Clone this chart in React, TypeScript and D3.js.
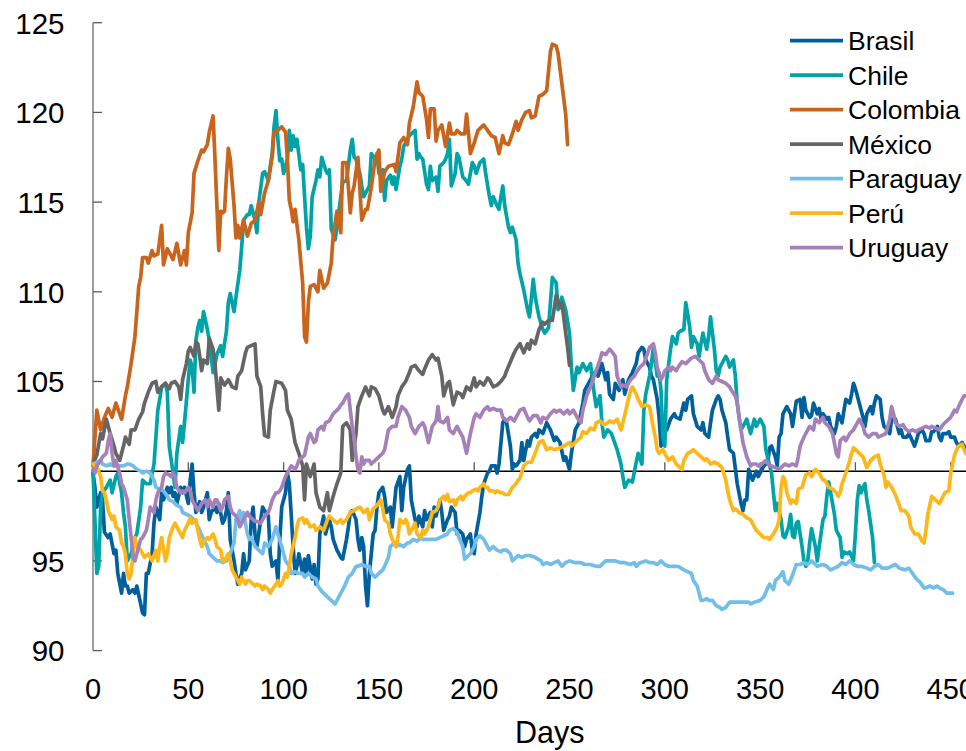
import React from "react";
import * as d3 from "d3";

// ---- Data: [day, index value] ----
const brasil: [number, number][] = [[0,99.9],[1,99.1],[2,98.0],[4,98.8],[5,98.4],[6,96.6],[8,96.3],[9,96.5],[11,95.4],[12,95.6],[13,94.3],[15,93.2],[16,94.3],[17,93.6],[18,93.6],[19,93.2],[21,93.4],[22,93.2],[23,93.6],[25,92.6],[26,92.1],[27,92.0],[28,94.3],[29,94.3],[31,95.4],[32,97.1],[33,98.0],[35,97.3],[36,98.8],[37,98.4],[39,99.1],[40,98.8],[41,99.1],[42,98.6],[43,98.8],[44,98.2],[46,99.1],[47,98.8],[48,99.1],[50,98.2],[51,99.5],[52,100.4],[53,98.8],[54,97.7],[56,98.3],[57,97.7],[58,98.0],[60,98.8],[61,97.3],[62,97.7],[64,98.0],[65,97.7],[66,98.2],[68,97.1],[69,97.3],[70,97.8],[71,98.8],[72,96.2],[74,95.0],[75,94.3],[76,93.7],[78,94.3],[79,95.4],[80,94.5],[82,95.0],[83,97.3],[84,98.0],[85,96.5],[86,95.8],[88,97.3],[89,98.0],[90,97.8],[92,97.5],[93,95.4],[94,94.7],[96,95.0],[97,93.9],[98,96.2],[99,98.0],[101,98.8],[102,99.9],[103,99.3],[105,95.8],[106,94.3],[107,94.7],[108,95.4],[110,94.3],[111,95.1],[112,94.3],[113,95.3],[115,94.0],[116,94.8],[117,93.7],[118,94.0],[119,96.5],[121,97.5],[122,96.5],[124,97.3],[125,96.9],[126,96.2],[128,95.6],[129,95.4],[130,95.2],[131,95.1],[133,96.2],[134,96.9],[135,97.7],[136,97.8],[138,97.3],[139,96.2],[140,95.6],[141,96.3],[142,95.8],[143,93.6],[144,92.5],[145,94.3],[147,96.5],[148,96.7],[149,98.0],[150,98.8],[152,99.1],[153,98.6],[154,97.7],[156,98.0],[157,96.9],[158,98.0],[159,99.1],[161,99.7],[162,97.8],[163,99.1],[165,100.1],[166,100.3],[167,98.4],[169,97.3],[170,96.9],[171,97.5],[173,96.9],[174,97.8],[175,97.3],[177,97.7],[178,96.9],[179,98.0],[180,97.5],[182,98.4],[183,97.7],[184,96.7],[186,97.3],[187,97.5],[188,98.0],[190,97.7],[191,96.5],[192,96.7],[194,96.5],[195,95.8],[196,96.2],[198,96.5],[199,95.6],[200,95.4],[201,96.5],[203,97.7],[204,98.6],[205,99.3],[207,99.9],[208,100.0],[209,100.3],[211,100.3],[212,99.9],[213,100.4],[215,102.7],[216,102.9],[217,102.7],[219,101.4],[220,100.1],[221,100.4],[222,100.3],[224,100.6],[225,101.6],[226,100.6],[228,101.7],[229,101.4],[230,101.9],[232,102.1],[233,101.9],[234,102.3],[236,102.1],[238,102.7],[240,102.3],[242,101.7],[243,101.9],[245,101.6],[247,100.6],[248,100.8],[250,100.1],[251,101.0],[253,102.3],[255,102.7],[257,103.8],[258,104.5],[260,104.9],[262,105.3],[264,105.6],[265,105.3],[267,106.0],[269,105.1],[270,105.5],[271,104.3],[273,104.0],[274,104.9],[276,104.5],[278,105.1],[279,104.3],[281,105.1],[283,105.5],[285,106.0],[286,106.6],[288,106.9],[289,106.8],[290,106.2],[292,105.8],[293,105.3],[294,105.1],[296,104.0],[297,103.0],[298,101.4],[300,102.5],[301,102.3],[303,102.9],[305,103.2],[306,103.0],[308,102.9],[310,103.8],[311,103.4],[312,104.0],[314,104.2],[315,103.2],[317,102.5],[319,102.3],[320,102.7],[321,102.1],[323,101.9],[324,102.7],[325,103.4],[327,104.0],[328,104.2],[329,104.0],[330,103.4],[332,102.7],[333,101.9],[334,101.2],[336,101.0],[338,99.3],[340,98.2],[341,97.8],[342,98.4],[343,98.4],[344,100.1],[346,99.5],[348,100.0],[349,99.7],[351,100.1],[352,100.3],[354,100.5],[355,101.3],[356,101.4],[358,100.8],[359,100.3],[360,101.9],[361,102.1],[362,103.2],[364,103.6],[366,103.2],[367,102.5],[368,103.2],[369,103.9],[371,104.0],[372,103.0],[373,104.1],[374,103.4],[376,103.0],[377,103.1],[378,103.8],[380,103.2],[381,103.5],[382,102.9],[383,103.2],[385,102.9],[386,103.0],[387,102.5],[389,102.1],[390,102.5],[391,103.2],[393,102.7],[394,103.4],[395,104.0],[397,103.8],[398,104.3],[399,104.9],[400,104.6],[401,104.2],[402,103.8],[404,103.0],[405,102.5],[406,103.2],[408,103.6],[409,103.2],[410,103.8],[411,104.2],[413,104.0],[414,103.0],[415,102.5],[417,102.3],[418,102.1],[419,102.9],[421,102.9],[422,102.5],[423,102.1],[424,102.3],[425,101.9],[427,101.9],[428,102.1],[429,101.9],[431,101.4],[432,101.7],[433,102.1],[435,102.3],[436,102.1],[437,101.7],[439,101.7],[440,102.2],[441,102.2],[443,102.5],[444,101.9],[445,101.7],[446,102.1],[448,102.1],[449,102.2],[450,101.9],[452,101.9],[453,101.6],[454,101.4],[456,101.6],[457,101.4],[458,101.2]];

const chile: [number, number][] = [[0,100],[1,97.3],[2,94.3],[3,94.7],[4,98.0],[5,98.8],[7,99.1],[9,99.5],[10,98.8],[12,99.7],[13,99.9],[15,98.8],[16,97.7],[17,96.9],[18,95.0],[20,95.4],[22,96.3],[23,96.5],[25,98.0],[26,99.5],[28,99.3],[30,99.3],[32,100.4],[33,101.9],[34,103.4],[35,104.0],[36,104.7],[38,104.9],[39,104.4],[40,101.4],[42,99.9],[43,99.1],[44,101.0],[46,102.5],[47,101.6],[48,102.7],[50,105.1],[51,106.2],[52,105.8],[53,104.4],[54,107.3],[55,108.0],[56,108.4],[57,107.8],[58,108.9],[60,107.9],[61,107.3],[63,105.5],[65,106.5],[67,107.0],[68,106.4],[70,107.8],[71,109.4],[72,109.9],[74,108.9],[75,109.7],[77,111.2],[78,112.5],[79,114.0],[81,114.3],[82,114.3],[83,114.8],[85,114.0],[86,113.3],[87,115.0],[89,116.6],[90,116.7],[92,116.2],[93,117.0],[94,117.7],[95,119.2],[96,120.1],[97,118.5],[98,117.3],[99,117.4],[100,116.6],[101,117.0],[102,117.4],[103,119.0],[104,117.9],[105,118.7],[106,118.1],[107,118.5],[109,116.8],[110,117.1],[111,115.3],[112,113.6],[113,112.4],[114,113.1],[115,115.3],[117,116.2],[118,116.8],[119,116.4],[120,117.5],[122,116.8],[123,116.6],[124,116.8],[125,113.5],[127,112.9],[128,113.6],[130,115.3],[131,116.1],[133,116.2],[135,117.9],[136,118.5],[137,117.5],[138,117.4],[140,116.6],[141,115.9],[142,115.3],[144,115.7],[145,115.9],[146,117.7],[148,117.4],[149,117.7],[150,116.6],[152,116.8],[153,115.1],[154,116.2],[156,116.5],[157,116.0],[158,116.4],[159,115.7],[161,117.0],[162,117.4],[163,118.1],[165,118.5],[166,118.7],[167,118.8],[169,119.0],[170,117.4],[171,117.7],[172,117.5],[173,117.4],[175,116.0],[176,115.7],[177,117.0],[178,116.2],[180,116.4],[181,115.6],[182,117.0],[184,117.2],[185,117.4],[186,117.7],[187,118.5],[188,115.9],[190,116.6],[191,117.7],[192,117.5],[194,116.4],[195,116.3],[197,116.0],[199,117.2],[200,117.0],[201,116.6],[203,117.2],[205,117.4],[206,116.6],[208,115.3],[209,114.8],[210,115.3],[212,114.8],[213,114.6],[214,115.3],[215,115.9],[216,114.8],[218,113.6],[219,113.3],[220,113.6],[222,112.9],[223,111.6],[224,111.0],[226,110.1],[228,109.0],[229,108.6],[231,110.7],[232,109.7],[234,108.6],[236,107.9],[237,107.7],[239,108.0],[241,110.8],[243,110.5],[244,109.0],[246,109.7],[248,109.0],[250,107.7],[251,105.8],[252,104.5],[254,105.8],[255,105.5],[257,106.0],[259,105.6],[261,106.0],[262,105.1],[263,104.3],[264,103.6],[266,104.2],[267,102.7],[268,101.9],[270,102.3],[272,102.1],[275,101.2],[277,100.4],[278,99.7],[279,99.1],[281,99.5],[283,99.4],[285,100.5],[286,101.0],[288,100.4],[289,103.4],[290,104.3],[292,105.3],[293,106.0],[294,106.9],[296,105.3],[297,105.5],[298,104.5],[299,101.9],[300,101.4],[301,105.1],[303,106.8],[304,107.5],[306,107.1],[307,107.7],[308,107.8],[310,107.9],[311,109.4],[313,108.1],[314,106.9],[315,107.5],[317,107.1],[318,106.4],[319,107.1],[320,107.7],[322,106.8],[323,107.5],[324,108.6],[326,106.8],[327,105.6],[328,105.3],[329,105.8],[331,106.2],[332,106.4],[333,106.2],[334,105.8],[336,106.2],[337,105.3],[338,103.8],[339,103.0],[340,102.3],[342,102.7],[343,102.9],[345,102.1],[347,102.9],[348,102.5],[350,102.9],[352,102.5],[353,101.2],[355,100.3],[356,99.9],[357,98.8],[358,97.8],[359,98.2],[361,97.3],[362,96.4],[363,96.3],[365,96.9],[366,97.6],[367,96.4],[368,96.3],[369,97.1],[370,97.2],[372,95.8],[373,95.0],[374,94.7],[375,95.0],[376,96.0],[377,96.8],[379,95.8],[380,95.0],[381,95.8],[383,97.3],[384,97.5],[385,98.6],[386,99.4],[387,98.8],[389,97.6],[390,96.7],[392,96.3],[393,95.2],[394,95.5],[396,95.4],[397,95.5],[399,95.0],[400,96.5],[401,98.4],[402,99.2],[403,98.8],[404,99.1],[405,99.3],[406,98.4],[407,97.8],[409,96.3],[410,94.9]];

const colombia: [number, number][] = [[0,100.3],[2,103.4],[4,102.3],[6,103.0],[8,103.5],[10,103.0],[12,103.8],[14,103.2],[15,102.9],[17,104.2],[18,104.7],[20,106.0],[22,107.5],[24,110.3],[25,110.8],[26,111.9],[28,111.9],[29,111.6],[31,112.3],[32,112.0],[34,112.1],[36,113.7],[37,111.5],[39,112.4],[42,111.8],[44,112.7],[46,111.5],[48,112.3],[49,111.5],[50,113.3],[52,114.4],[53,116.6],[55,117.3],[57,117.9],[58,117.8],[60,118.2],[61,118.9],[63,119.8],[64,117.4],[65,114.8],[66,112.3],[67,114.5],[68,114.4],[69,114.5],[70,116.4],[71,118.0],[72,117.4],[74,114.8],[75,113.0],[76,113.7],[77,113.0],[79,114.0],[81,113.1],[83,113.8],[85,114.0],[87,115.0],[88,114.3],[90,115.5],[92,116.2],[94,117.5],[95,118.9],[97,119.0],[99,119.2],[101,118.9],[102,117.4],[103,115.1],[104,114.6],[105,113.9],[106,114.6],[108,112.9],[110,110.5],[111,107.5],[112,107.2],[113,109.4],[114,110.3],[116,110.4],[118,110.0],[119,111.2],[121,110.2],[123,110.5],[125,111.6],[126,113.1],[128,114.5],[130,113.3],[131,117.2],[133,117.2],[135,114.4],[136,115.5],[137,115.9],[139,117.5],[141,114.0],[143,114.6],[144,114.6],[146,115.8],[148,117.4],[150,117.9],[151,115.6],[153,116.7],[155,117.0],[158,117.1],[159,116.7],[161,118.3],[163,118.6],[165,118.2],[166,119.4],[168,120.3],[170,121.7],[171,121.1],[173,120.9],[175,119.6],[176,118.6],[177,120.2],[179,120.2],[180,118.4],[181,119.0],[183,119.3],[185,118.1],[187,119.4],[188,118.8],[190,118.8],[191,119.0],[193,118.8],[195,118.8],[196,119.9],[198,117.7],[200,118.3],[202,119.0],[205,119.3],[207,119.0],[209,118.7],[211,118.6],[213,117.7],[215,118.7],[216,118.3],[218,118.2],[220,118.8],[222,119.5],[223,119.0],[225,119.6],[227,120.0],[229,120.1],[230,119.7],[232,119.8],[234,120.9],[236,121.0],[238,121.2],[240,123.4],[241,123.8],[243,123.7],[244,123.3],[246,121.6],[248,119.9],[249,118.2]];

const mexico: [number, number][] = [[0,100.4],[2,100.9],[4,102.1],[5,101.8],[7,102.9],[9,102.1],[11,101.4],[12,101.0],[14,100.6],[16,101.4],[17,101.9],[19,101.5],[20,102.3],[22,102.3],[24,102.9],[26,103.3],[27,103.8],[29,104.4],[31,104.9],[33,105.0],[34,104.4],[36,104.7],[38,104.9],[40,104.6],[41,104.9],[43,105.0],[45,104.7],[46,104.0],[47,105.1],[49,106.0],[50,106.7],[51,106.9],[53,106.4],[54,107.2],[55,107.1],[56,106.4],[57,105.6],[58,106.2],[60,106.0],[61,107.4],[63,106.8],[64,106.0],[66,103.4],[67,105.2],[68,105.0],[69,104.8],[71,105.1],[73,104.7],[75,104.6],[76,105.3],[78,105.6],[80,106.6],[81,106.9],[83,107.0],[85,107.1],[86,105.3],[88,104.7],[89,103.2],[90,102.0],[92,101.9],[93,103.4],[95,104.5],[96,105.0],[99,104.9],[101,104.5],[102,103.4],[104,102.9],[106,101.6],[108,101.0],[110,100.3],[111,98.4],[112,100.4],[114,99.7],[116,100.4],[117,98.8],[119,98.0],[121,97.8],[123,98.8],[124,97.8],[126,98.6],[128,99.3],[130,99.9],[131,102.5],[133,102.7],[135,102.3],[136,100.6],[138,102.1],[139,103.6],[141,104.2],[143,104.7],[145,104.2],[146,104.7],[148,104.6],[150,104.2],[152,103.4],[153,103.2],[155,103.6],[157,103.0],[159,103.6],[160,104.2],[162,104.7],[164,105.0],[166,105.5],[167,105.8],[169,105.9],[171,105.6],[173,105.4],[174,105.7],[176,106.2],[178,106.5],[180,106.2],[181,106.3],[183,105.3],[184,104.2],[186,104.9],[187,105.0],[189,103.7],[191,104.4],[193,104.3],[194,104.1],[196,104.7],[198,104.5],[200,105.2],[201,104.7],[203,105.0],[205,104.8],[207,105.2],[208,105.1],[210,104.7],[212,104.8],[214,105.0],[216,105.3],[217,105.6],[219,106.1],[221,106.6],[222,106.8],[224,107.1],[226,106.6],[228,107.1],[229,106.8],[230,107.3],[232,107.1],[234,107.9],[236,108.3],[237,108.2],[239,108.4],[241,108.4],[243,109.8],[245,109.1],[246,109.4],[248,107.7],[249,106.9],[250,105.9]];

const paraguay: [number, number][] = [[0,100.4],[2,100.5],[4,100.6],[5,100.4],[7,100.3],[9,100.4],[11,100.3],[12,100.3],[14,100.3],[16,100.3],[18,100.4],[19,100.4],[21,100.3],[23,100.1],[25,100.0],[26,99.9],[28,100.0],[30,99.9],[32,99.5],[33,99.1],[35,99.0],[37,98.9],[39,98.6],[40,98.4],[42,98.3],[44,98.1],[46,98.0],[47,97.7],[49,97.6],[51,97.5],[53,97.3],[54,97.1],[56,96.7],[58,96.2],[60,95.8],[61,95.4],[63,95.2],[65,95.0],[67,95.0],[68,94.9],[70,95.0],[72,95.4],[74,96.0],[75,97.3],[77,97.8],[78,97.1],[79,97.7],[81,96.5],[82,96.2],[83,96.3],[85,95.8],[87,95.6],[89,95.4],[90,96.0],[92,95.8],[94,96.2],[96,96.9],[97,96.5],[99,95.8],[101,95.0],[103,94.7],[104,94.3],[106,94.4],[108,94.3],[110,94.3],[111,94.1],[113,94.3],[115,94.1],[117,94.0],[118,93.6],[120,93.3],[123,93.0],[125,92.8],[127,92.6],[129,93.0],[131,93.4],[132,93.6],[134,94.1],[136,94.3],[138,94.7],[139,94.7],[141,94.8],[143,94.7],[145,94.7],[146,94.3],[148,94.1],[150,94.3],[152,94.5],[153,94.7],[155,95.2],[156,95.8],[158,96.0],[159,95.8],[161,95.9],[163,95.8],[165,96.0],[166,96.0],[168,96.2],[170,96.1],[172,96.3],[173,96.2],[175,96.2],[177,96.2],[179,96.2],[180,96.2],[182,96.3],[184,96.4],[186,96.5],[187,96.7],[189,96.8],[191,96.6],[192,96.3],[194,95.8],[195,95.1],[196,95.2],[198,95.4],[200,95.8],[201,96.2],[203,96.4],[205,96.2],[207,95.8],[208,95.6],[210,95.8],[212,95.6],[214,95.5],[215,95.6],[217,95.6],[219,95.4],[220,95.0],[222,95.2],[223,95.3],[225,95.2],[227,95.3],[229,95.3],[232,95.2],[235,95.0],[236,94.8],[238,94.9],[240,94.8],[242,94.9],[244,95.0],[246,94.7],[248,94.9],[250,95.0],[253,94.9],[256,94.9],[258,94.8],[261,94.8],[264,94.7],[266,94.7],[269,95.0],[271,95.0],[274,95.0],[277,94.9],[279,94.9],[282,94.8],[284,94.9],[285,94.7],[287,94.9],[290,95.0],[292,94.9],[294,94.9],[296,94.8],[298,95.0],[300,94.8],[302,94.7],[305,94.7],[307,94.7],[310,94.5],[312,94.4],[314,94.3],[315,93.9],[317,93.6],[319,92.8],[320,92.8],[322,92.9],[323,92.8],[325,92.8],[327,92.5],[329,92.4],[330,92.3],[332,92.4],[334,92.7],[336,92.7],[339,92.7],[342,92.7],[344,92.7],[345,92.6],[347,92.7],[350,92.8],[352,93.0],[354,93.5],[355,93.7],[357,93.4],[358,93.9],[360,94.1],[362,94.4],[363,93.9],[365,93.7],[367,94.2],[368,94.5],[369,94.8],[371,94.8],[373,94.9],[375,94.8],[377,95.0],[379,94.8],[380,94.7],[383,94.8],[385,94.7],[387,94.5],[389,94.6],[391,94.7],[393,94.9],[395,94.8],[397,95.0],[399,94.8],[401,94.7],[403,94.7],[406,94.6],[408,94.5],[410,94.7],[412,94.8],[414,94.6],[417,94.6],[419,94.7],[421,94.8],[423,94.6],[426,94.5],[428,94.6],[430,94.3],[432,94.0],[434,93.8],[436,93.5],[437,93.5],[439,93.6],[441,93.5],[443,93.6],[444,93.5],[446,93.4],[448,93.2],[450,93.2],[451,93.2]];

const peru: [number, number][] = [[0,100.4],[1,100.3],[2,100.3],[4,99.7],[5,98.9],[6,98.8],[7,98.4],[8,97.8],[10,97.3],[11,97.5],[12,96.9],[14,96.7],[15,96.0],[16,95.8],[17,95.4],[18,94.3],[19,94.0],[20,94.3],[21,95.4],[22,96.3],[23,95.8],[25,95.6],[26,95.4],[27,95.2],[29,95.4],[30,95.2],[31,95.0],[33,95.6],[34,95.0],[35,95.8],[36,96.3],[38,95.0],[39,95.4],[40,96.3],[42,96.9],[43,97.1],[44,96.9],[46,96.5],[47,96.3],[48,96.7],[50,97.1],[51,97.4],[52,97.1],[54,97.3],[55,96.7],[56,96.2],[57,95.8],[59,96.2],[60,96.3],[61,96.2],[63,96.5],[64,96.2],[65,95.8],[67,95.6],[68,95.0],[69,95.0],[71,95.4],[72,95.0],[73,94.5],[75,94.1],[76,93.9],[77,93.7],[78,94.1],[80,93.7],[81,93.9],[82,93.9],[84,93.7],[85,93.6],[86,93.7],[88,93.6],[89,93.4],[90,93.6],[92,93.4],[93,93.2],[94,93.4],[96,93.7],[97,93.9],[98,93.6],[99,93.7],[101,94.3],[102,94.1],[103,94.7],[104,95.4],[106,96.3],[107,96.9],[108,97.3],[110,97.4],[111,97.1],[112,97.3],[114,96.9],[116,97.0],[117,96.7],[119,96.9],[121,96.7],[123,97.3],[124,97.5],[126,97.3],[128,97.1],[130,97.3],[131,97.1],[133,97.3],[135,97.7],[137,97.8],[138,97.9],[140,98.0],[142,97.7],[144,97.9],[145,97.3],[147,97.9],[149,98.1],[151,98.4],[152,97.9],[153,97.3],[155,97.1],[156,96.5],[157,96.2],[159,95.8],[160,96.3],[161,97.3],[163,97.1],[164,97.3],[165,97.1],[166,96.5],[168,96.9],[169,97.1],[170,96.5],[172,96.3],[173,96.7],[174,96.5],[176,96.9],[177,97.3],[178,97.7],[180,97.8],[181,98.0],[182,98.4],[184,98.6],[185,98.4],[186,98.7],[187,98.3],[189,98.4],[190,98.1],[191,98.4],[193,98.6],[194,98.4],[195,98.6],[197,98.8],[198,98.8],[199,98.9],[201,99.0],[202,98.9],[203,99.1],[205,99.3],[206,99.1],[207,99.1],[208,98.9],[210,98.9],[211,98.8],[212,98.9],[214,98.8],[215,98.8],[216,98.7],[218,98.7],[219,98.9],[220,99.1],[222,99.3],[223,99.5],[224,99.6],[226,100.3],[228,100.5],[230,100.5],[232,101.0],[234,101.6],[236,101.7],[238,101.2],[240,101.3],[242,101.2],[245,101.3],[247,101.4],[250,101.6],[251,101.4],[254,101.7],[256,101.9],[257,102.2],[259,102.1],[261,102.4],[263,102.3],[264,102.7],[266,102.8],[268,102.6],[270,102.7],[271,102.8],[273,102.7],[275,102.9],[277,102.3],[278,102.7],[280,103.6],[282,104.5],[283,104.7],[285,104.3],[286,104.0],[288,103.6],[290,103.7],[292,103.6],[293,103.0],[295,101.9],[296,101.2],[297,101.0],[299,101.2],[300,101.0],[302,100.6],[304,100.8],[306,100.4],[307,100.3],[309,100.1],[310,100.6],[312,101.0],[314,101.1],[315,101.2],[317,101.0],[319,100.8],[321,100.6],[322,100.7],[324,100.4],[326,100.5],[328,100.4],[329,100.3],[330,100.2],[332,99.5],[333,98.9],[334,98.4],[336,97.8],[337,97.9],[339,97.7],[341,97.6],[343,97.4],[345,97.3],[347,96.9],[348,96.7],[350,96.5],[352,96.3],[354,96.3],[355,96.2],[357,96.5],[359,96.9],[360,97.3],[361,99.1],[362,99.7],[363,99.5],[364,98.8],[366,98.2],[367,98.4],[369,98.2],[370,99.0],[372,99.1],[374,99.8],[376,99.9],[377,99.7],[379,100.1],[381,99.9],[383,99.5],[384,99.5],[386,99.1],[388,99.0],[390,98.8],[391,98.6],[392,98.8],[393,99.3],[395,99.9],[397,100.6],[398,101.0],[399,101.3],[401,101.1],[403,100.9],[404,100.8],[406,100.2],[408,100.6],[410,100.8],[412,100.9],[413,100.4],[415,99.8],[416,99.1],[417,99.4],[419,99.1],[421,98.7],[422,98.4],[424,97.8],[426,97.8],[428,97.5],[429,96.9],[431,96.5],[433,96.5],[435,96.1],[436,96.0],[437,96.7],[438,97.6],[440,98.6],[442,98.4],[444,98.2],[445,98.4],[447,98.8],[449,98.9],[450,99.9],[452,100.9],[454,101.4],[456,101.5],[457,101.2],[458,101.0]];

const uruguay: [number, number][] = [[0,100.1],[1,99.9],[2,100.3],[4,100.6],[5,100.8],[7,101.0],[8,101.7],[9,102.1],[10,101.0],[11,100.3],[12,100.6],[14,99.9],[15,99.3],[16,99.1],[18,98.4],[19,97.3],[20,96.3],[21,95.2],[22,95.0],[24,95.8],[25,96.2],[26,96.3],[28,96.7],[29,97.3],[30,98.0],[32,97.7],[33,98.4],[34,98.8],[36,99.1],[37,99.7],[38,99.9],[40,99.8],[41,99.7],[42,99.9],[43,99.7],[44,99.1],[46,98.8],[47,98.9],[48,98.8],[50,99.1],[51,98.9],[52,98.4],[54,98.0],[55,97.8],[56,98.0],[57,98.2],[59,98.4],[60,98.0],[61,98.4],[63,98.0],[64,98.4],[65,98.4],[67,97.8],[68,98.0],[69,98.4],[71,98.6],[72,98.0],[73,97.7],[75,97.5],[76,97.3],[77,96.9],[78,97.1],[80,97.5],[81,97.7],[82,97.5],[84,97.3],[85,97.2],[86,97.2],[88,97.1],[89,97.3],[90,97.5],[92,97.7],[93,98.0],[94,98.4],[96,98.8],[97,98.8],[98,98.9],[99,99.1],[101,99.7],[102,99.9],[103,100.1],[104,100.3],[106,100.1],[107,100.3],[108,100.6],[110,100.8],[111,100.9],[112,101.4],[113,101.9],[114,102.1],[116,101.6],[117,101.7],[118,102.3],[120,102.5],[121,102.3],[122,102.7],[124,102.8],[125,103.0],[126,103.2],[128,103.4],[129,103.5],[130,103.7],[131,103.8],[133,104.2],[134,104.3],[135,103.4],[136,102.5],[137,101.9],[138,100.8],[139,100.1],[140,99.9],[141,100.8],[142,100.4],[143,100.6],[145,100.6],[146,100.4],[148,100.6],[150,100.8],[152,101.0],[153,101.2],[155,102.3],[157,102.5],[159,102.5],[160,103.0],[162,103.6],[164,103.4],[166,103.0],[167,102.5],[169,102.1],[171,102.5],[173,102.7],[174,102.5],[176,101.6],[178,102.5],[180,102.8],[181,103.6],[182,102.8],[184,102.7],[186,103.0],[187,102.3],[189,102.1],[191,102.5],[193,102.1],[194,101.9],[196,101.0],[198,102.1],[200,103.0],[201,103.2],[203,103.0],[205,103.4],[207,103.6],[208,103.4],[210,103.5],[212,103.4],[214,103.4],[215,103.0],[217,102.8],[219,103.0],[221,102.8],[222,103.0],[224,103.4],[226,103.5],[228,103.0],[229,102.8],[231,103.1],[233,103.1],[235,102.7],[236,103.0],[238,102.9],[240,103.2],[242,103.4],[243,103.3],[245,103.4],[247,103.2],[249,103.4],[250,103.2],[252,103.4],[254,103.0],[256,102.7],[257,103.4],[259,104.2],[261,104.7],[263,105.3],[264,105.6],[266,106.2],[267,106.6],[269,106.5],[271,106.8],[272,106.7],[274,106.4],[275,105.3],[277,104.7],[278,104.8],[280,104.7],[282,105.1],[284,105.3],[285,105.5],[287,105.8],[289,106.0],[291,106.6],[292,106.9],[294,107.1],[295,106.6],[296,105.8],[298,105.1],[299,105.3],[300,105.6],[302,105.8],[303,105.6],[304,105.8],[306,105.6],[307,105.8],[309,106.1],[311,106.0],[313,106.2],[314,106.3],[316,106.4],[318,106.2],[320,106.0],[321,105.6],[323,105.1],[325,104.9],[327,105.3],[328,105.1],[330,105.0],[332,104.9],[334,104.7],[335,104.5],[337,104.2],[338,103.8],[339,103.0],[340,102.3],[341,101.6],[342,101.2],[343,100.8],[345,100.3],[346,100.4],[348,100.4],[349,100.3],[351,100.4],[353,100.6],[355,100.3],[356,100.3],[358,100.2],[360,100.1],[362,100.3],[363,100.4],[365,100.3],[367,100.4],[369,100.3],[370,100.8],[371,101.4],[373,101.9],[375,102.3],[376,102.5],[378,102.3],[379,102.9],[381,102.7],[383,103.0],[384,102.7],[386,102.5],[388,102.1],[390,101.0],[391,100.8],[392,101.7],[394,101.9],[395,101.7],[397,102.1],[399,102.3],[401,102.7],[402,102.9],[404,102.5],[405,102.1],[407,101.9],[409,102.1],[411,102.1],[412,101.9],[414,102.0],[416,102.1],[418,102.9],[419,103.6],[420,103.2],[421,102.7],[423,102.5],[425,102.6],[426,102.4],[428,102.2],[430,102.3],[432,102.2],[433,102.3],[435,102.4],[437,102.5],[439,102.4],[440,102.5],[442,102.4],[444,102.3],[446,102.6],[447,102.7],[449,102.9],[450,103.0],[452,103.4],[453,103.3],[455,103.8],[457,104.2],[458,104.2]];

const seriesNames = ["Brasil", "Chile", "Colombia", "México", "Paraguay", "Perú", "Uruguay"];
const seriesColors = ["#00609C", "#00A4A8", "#C9641C", "#656565", "#72BEE8", "#FDB71A", "#A680B9"];
const seriesData = [brasil, chile, colombia, mexico, paraguay, peru, uruguay];

const yTicks = [90, 95, 100, 105, 110, 115, 120, 125];
const xTicks = [0, 50, 100, 150, 200, 250, 300, 350, 400, 450];
const xTitle = "Days";

const W = 966;
const H = 751;
const FONT = "'Liberation Sans', Arial, sans-serif";

export default function App() {
  React.useEffect(() => {
    document.body.style.margin = "0";
    document.body.style.overflow = "hidden";
  }, []);

  const x = d3.scaleLinear().domain([0, 450]).range([93, 950.7]);
  const y = d3.scaleLinear().domain([90, 125]).range([650.6, 22.7]);
  const line = d3
    .line<[number, number]>()
    .x((d) => x(d[0]))
    .y((d) => y(d[1]));

  const tickLen = 9;
  const legendX0 = 790;
  const legendX1 = 843;
  const legendY0 = 40.7;
  const legendStep = 34.5;
  const axisFont = 29.5;

  return (
    <svg
      width={W}
      height={H}
      style={{ position: "absolute", left: 0, top: 0, background: "#fff" }}
      fontFamily={FONT}
    >
      <rect x={0} y={0} width={W} height={H} fill="#fff" />
      {/* y axis */}
      <line x1={x(0)} x2={x(0)} y1={y(125)} y2={y(90)} stroke="#7f7f7f" strokeWidth={1.5} />
      {yTicks.map((t) => (
        <g key={"yt" + t}>
          <line x1={x(0)} x2={x(0) + tickLen} y1={y(t)} y2={y(t)} stroke="#595959" strokeWidth={1.3} />
          <text x={64.5} y={y(t) + 10.8} textAnchor="end" fontSize={axisFont} fill="#000">
            {t}
          </text>
        </g>
      ))}
      {/* horizontal axis line at 100 */}
      <line x1={x(0)} x2={W} y1={y(100)} y2={y(100)} stroke="#000" strokeWidth={1.4} />
      {xTicks.map((t) => (
        <g key={"xt" + t}>
          {t > 0 && (
            <line x1={x(t)} x2={x(t)} y1={y(100)} y2={y(100) - tickLen} stroke="#595959" strokeWidth={1.3} />
          )}
          <text x={x(t)} y={698.5} textAnchor="middle" fontSize={29} fill="#000">
            {t}
          </text>
        </g>
      ))}
      <text x={549.7} y={742.5} textAnchor="middle" fontSize={30.5} fill="#000">
        {xTitle}
      </text>

      {/* series */}
      {seriesData.map((data, i) => (
        <path
          key={seriesNames[i]}
          d={line(data) || ""}
          fill="none"
          stroke={seriesColors[i]}
          strokeWidth={3.7}
          strokeLinejoin="round"
          strokeLinecap="round"
        />
      ))}

      {/* legend */}
      {seriesNames.map((name, i) => {
        const ly = legendY0 + i * legendStep;
        return (
          <g key={"lg" + name}>
            <line x1={legendX0} x2={legendX1} y1={ly} y2={ly} stroke={seriesColors[i]} strokeWidth={3.7} />
            <text x={848} y={ly + 9.5} fontSize={26.5} fill="#000">
              {name}
            </text>
          </g>
        );
      })}
    </svg>
  );
}
